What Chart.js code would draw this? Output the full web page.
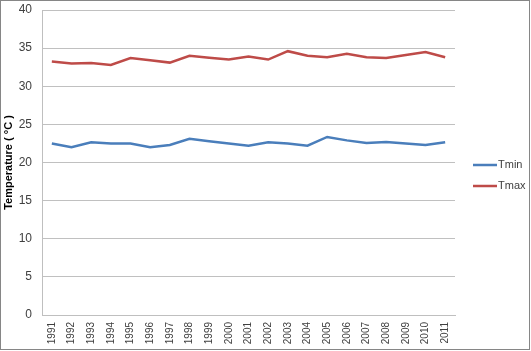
<!DOCTYPE html>
<html>
<head>
<meta charset="utf-8">
<script src="https://cdn.jsdelivr.net/npm/chart.js@4"></script>
<style>
  html, body { margin: 0; padding: 0; background: #fff; }
  #wrap { width: 531px; height: 351px; position: relative; }
</style>
</head>
<body>
<div id="wrap"><canvas id="c" width="531" height="351"></canvas></div>
<script>
const years = ["1991","1992","1993","1994","1995","1996","1997","1998","1999","2000","2001","2002","2003","2004","2005","2006","2007","2008","2009","2010","2011"];
const tmin = [22.5,22.0,22.65,22.5,22.5,22.0,22.3,23.1,22.8,22.5,22.2,22.65,22.5,22.2,23.35,22.9,22.55,22.7,22.5,22.3,22.65];
const tmax = [33.25,33.0,33.05,32.8,33.7,33.4,33.1,34.0,33.75,33.5,33.9,33.5,34.6,34.0,33.8,34.25,33.8,33.7,34.1,34.5,33.8];
const yTitle = "Temperature ( °C )";

const FONT = "'Liberation Sans', Arial, sans-serif";

const customLegend = {
  id: 'customLegend',
  afterDraw(chart) {
    const ctx = chart.ctx;
    const ds = chart.data.datasets;
    const x0 = 473, x1 = 497;
    const ys = [165, 186];
    ctx.save();
    ctx.font = "11px " + FONT;
    ctx.textBaseline = 'middle';
    ctx.textAlign = 'left';
    ds.forEach((d, i) => {
      ctx.strokeStyle = d.borderColor;
      ctx.lineWidth = 2.5;
      ctx.beginPath();
      ctx.moveTo(x0, ys[i]);
      ctx.lineTo(x1, ys[i]);
      ctx.stroke();
      ctx.fillStyle = '#404040';
      ctx.fillText(d.label, x1 + 1, ys[i]);
    });
    ctx.restore();
  }
};

const frame = {
  id: 'frame',
  afterDraw(chart) {
    const ctx = chart.ctx;
    ctx.save();
    ctx.strokeStyle = '#868686';
    ctx.lineWidth = 1;
    ctx.strokeRect(0.5, 0.5, 529, 349);
    ctx.restore();
  }
};

new Chart(document.getElementById('c'), {
  type: 'line',
  data: {
    labels: years,
    datasets: [
      { label: 'Tmin', data: tmin, borderColor: '#4a7ebb', backgroundColor: '#4a7ebb', borderWidth: 2.5, pointRadius: 0, tension: 0 },
      { label: 'Tmax', data: tmax, borderColor: '#be4b48', backgroundColor: '#be4b48', borderWidth: 2.5, pointRadius: 0, tension: 0 }
    ]
  },
  options: {
    responsive: false,
    animation: false,
    devicePixelRatio: 1,
    layout: { padding: { top: 10, right: 76, bottom: 0, left: 0 } },
    plugins: { legend: { display: false }, tooltip: { enabled: false } },
    scales: {
      x: {
        offset: true,
        grid: { display: false, drawTicks: false },
        border: { display: true, color: '#bfbfbf', width: 1 },
        ticks: { minRotation: 90, maxRotation: 90, autoSkip: false, padding: 7, color: '#404040', font: { family: FONT, size: 10 } },
        afterFit(axis) { axis.height = 36; axis.paddingLeft = 0; axis.paddingRight = 0; axis.paddingTop = 0; axis.paddingBottom = 0; }
      },
      y: {
        min: 0, max: 40,
        grid: { color: '#c0c0c0', lineWidth: 1, drawTicks: false },
        border: { display: true, color: '#bfbfbf', width: 1 },
        ticks: { stepSize: 5, padding: 10, color: '#404040', font: { family: FONT, size: 12 } },
        title: { display: true, text: yTitle, color: '#000', padding: { top: 2, bottom: 0 }, font: { family: FONT, size: 11, weight: 'bold' } },
        afterFit(axis) { axis.width = 42; axis.paddingTop = 0; axis.paddingBottom = 0; axis.paddingLeft = 0; axis.paddingRight = 0; }
      }
    }
  },
  plugins: [customLegend, frame]
});
</script>
</body>
</html>
